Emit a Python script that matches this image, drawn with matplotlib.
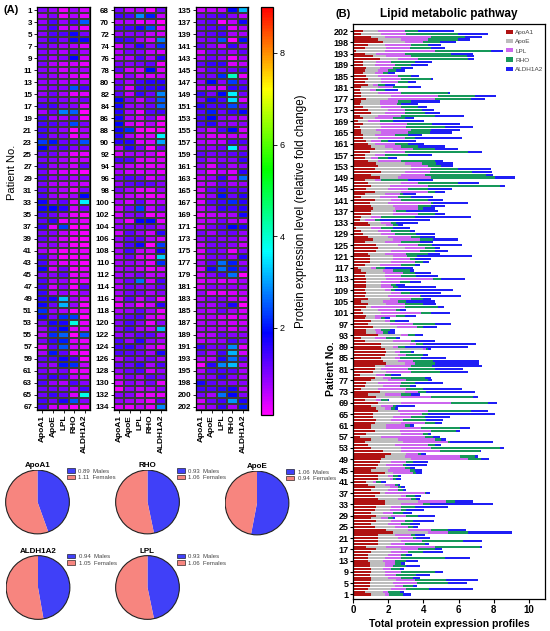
import matplotlib
matplotlib.use('Agg')
import matplotlib.pyplot as plt
import numpy as np
from matplotlib.colors import LinearSegmentedColormap, Normalize
from matplotlib.cm import ScalarMappable
from matplotlib.patches import Patch, Circle

plt.rcParams['font.family'] = ['Liberation Sans', 'DejaVu Sans']

proteins = ['ApoA1', 'ApoE', 'LPL', 'RHO', 'ALDH1A2']
patients = list(range(1, 196)) + list(range(197, 203))

apoa1 = [
    1.00,0.70,0.85,0.95,0.95,1.04,1.04,0.95,1.04,1.04, 0.95,0.95,0.85,0.85,0.85,1.04,1.33,0.76,1.42,1.42,
    1.42,1.42,2.27,1.89,1.23,1.04,1.33,1.04,1.33,1.04, 1.23,1.33,1.80,1.80,1.42,
    1.23,1.52,1.04,1.23,0.85,0.76,1.42,1.42,1.80,1.04, 1.33,1.42,1.52,1.61,1.80,2.18,1.70,1.04,0.85,0.66,
    1.04,0.38,0.76,1.23,1.04,1.04,1.23,1.33,1.14,1.14, 1.42,1.33,1.04,1.42,0.66,1.33,0.85,
    1.52,0.47,0.66,0.76,1.04,1.23,0.38,1.14,1.23,1.23, 1.89,1.70,1.61,1.80,1.89,1.80,1.61,1.61,0.66,0.47,
    1.42,0.76,0.76,1.14,0.85,1.04,0.66,0.76,0.57,0.47, 0.76,0.85,
    0.47,0.85,0.66,0.76,0.66,0.76,0.76,0.76,0.76,0.66, 0.76,0.47,0.28,0.66,0.95,0.95,0.95,0.85,1.33,1.42,
    1.33,0.66,1.14,0.85,0.57,0.47,0.19,0.95,0.85,0.38, 0.47,1.04,1.04,1.14,
    1.04,0.95,1.23,0.47,0.66,1.23,0.76,1.04,0.85,0.66, 1.52,1.04,1.61,1.23,1.42,1.33,0.85,0.66,0.66,0.95,
    1.23,1.04,0.85,0.76,0.57,0.57,0.47,0.47,0.38,0.57, 0.28,0.57,0.38,
    1.04,0.85,0.57,0.38,0.47,0.76,0.47,0.47,0.38,0.47, 0.85,0.66,0.85,0.76,0.57,0.66,0.76,0.57,0.57,1.52,
    1.14,0.66,0.19,0.66,0.85,1.70,1.42,1.04,0.47,0.57]

apoe = [
    0.80,1.00,1.33,1.42,1.33,1.42,0.95,0.85,0.76,0.66, 0.85,0.85,0.85,0.95,1.14,1.14,1.42,1.14,0.76,1.33,
    1.14,0.95,1.99,1.23,1.14,0.95,0.85,0.57,0.85,0.66, 0.85,0.85,0.95,1.89,1.14,
    1.52,0.28,0.95,0.85,0.95,0.38,0.66,0.57,0.47,0.95, 0.76,0.47,0.66,1.70,1.14,0.85,1.04,1.70,1.52,2.18,
    1.52,1.23,1.99,1.42,0.85,0.85,1.52,0.85,1.14,1.52, 1.14,0.47,0.57,1.33,0.66,1.42,0.95,
    1.42,0.95,1.04,0.66,0.95,0.47,0.95,0.76,0.38,0.57, 1.04,0.85,0.76,0.76,0.47,2.18,0.66,1.61,1.61,0.76,
    1.33,0.57,0.47,1.33,1.23,0.76,0.57,0.47,1.04,0.95, 0.28,1.04,
    1.23,1.23,1.33,1.42,1.14,0.85,0.85,0.85,1.14,1.14, 1.04,1.23,0.76,0.85,1.23,1.33,1.33,0.95,0.85,1.52,
    1.23,1.14,1.14,1.14,1.04,0.95,0.85,0.95,0.76,0.28, 0.57,1.23,1.23,1.23,
    1.23,1.04,0.95,1.04,1.14,1.52,1.23,1.04,1.89,0.57, 1.04,1.70,1.33,2.08,1.89,1.61,0.57,0.38,0.57,0.85,
    1.04,0.76,0.38,0.28,0.85,0.66,1.14,0.85,1.23,0.95, 0.57,0.66,1.04,
    0.76,1.14,1.04,1.14,1.04,1.23,1.70,0.95,0.57,0.95, 0.28,0.95,0.76,0.66,0.66,0.76,0.76,0.66,0.76,1.04,
    0.76,0.66,1.61,1.23,0.95,1.23,1.33,0.76,1.14,0.85]

lpl = [
    0.25,0.28,0.85,0.47,1.33,1.04,0.76,0.66,0.95,0.47, 0.47,0.57,0.66,0.95,0.76,0.95,0.95,2.75,0.76,1.14,
    0.85,0.95,1.14,1.33,0.76,0.76,0.76,0.38,0.85,0.57, 0.66,0.57,1.23,1.61,0.76,
    0.28,2.27,0.57,0.47,0.57,0.19,0.19,0.28,1.14,1.23, 0.85,0.95,0.85,3.22,3.13,0.66,2.18,1.70,1.89,2.56,
    2.08,2.46,1.23,1.80,1.99,1.04,1.33,0.66,1.04,1.23, 1.70,0.38,0.66,2.84,0.28,1.70,0.95,
    0.76,1.61,0.95,1.33,1.04,0.47,0.47,1.42,1.52,1.52, 0.57,0.85,0.28,0.47,0.28,0.19,0.28,0.38,1.04,0.66,
    0.38,0.38,0.38,1.14,1.33,0.28,0.38,1.23,2.27,1.04, 1.89,1.04,
    0.85,1.23,1.80,0.57,0.38,0.66,0.57,1.04,2.65,0.95, 1.04,0.57,0.28,1.23,1.33,0.95,0.76,1.23,1.61,1.14,
    1.14,0.95,1.52,1.33,0.76,0.76,0.57,0.38,0.57,0.57, 0.57,1.42,0.19,1.33,
    1.42,2.46,0.57,1.04,0.85,1.52,1.14,2.18,0.95,0.38, 1.89,1.33,1.42,1.14,0.95,0.95,1.33,0.38,0.57,1.14,
    1.14,0.95,1.14,0.57,1.52,1.14,1.52,1.99,1.42,1.52, 0.66,1.04,1.33,
    1.14,0.95,1.14,0.95,1.04,2.65,2.65,1.33,0.38,0.85, 0.28,0.95,1.14,1.14,0.47,0.57,0.76,1.14,0.85,1.14,
    1.42,1.61,2.84,1.33,1.52,1.04,1.52,2.65,1.42,1.52]

rho = [
    0.80,0.66,1.29,0.57,1.80,1.80,0.66,1.14,1.89,0.47, 0.76,0.38,0.66,2.46,0.28,0.85,0.95,2.56,1.14,2.37,
    0.19,0.19,1.14,0.95,0.28,0.47,0.47,0.28,0.66,0.57, 0.28,0.76,0.38,0.47,0.28,
    0.47,0.09,0.28,0.19,0.19,0.28,0.19,0.28,0.19,0.28, 0.28,0.19,0.38,0.76,0.85,0.19,2.27,3.88,0.38,0.09,
    0.38,0.47,0.28,1.42,2.18,0.28,0.57,1.33,0.76,0.38, 2.46,0.19,0.19,2.08,0.38,2.37,0.57,
    0.47,0.95,0.57,0.76,1.23,1.89,0.38,1.61,1.52,1.14, 1.14,1.14,1.23,0.95,0.66,0.09,0.38,0.38,0.19,0.57,
    0.38,0.28,0.47,0.38,1.23,0.28,0.19,0.47,0.57,0.19, 1.89,1.04,
    0.47,0.66,0.09,0.47,0.19,0.28,0.28,0.57,0.47,0.85, 0.66,0.95,0.47,0.76,0.47,0.28,0.57,1.23,0.85,0.57,
    0.76,1.04,0.76,0.47,1.23,1.04,0.66,0.28,0.28,0.28, 1.89,0.95,0.57,0.28,
    0.76,0.09,1.52,0.76,0.19,0.38,1.14,4.07,2.27,1.52, 3.60,3.50,2.37,1.52,0.76,0.85,1.89,0.57,1.33,3.60,
    1.23,0.95,0.76,0.38,0.57,0.76,1.23,1.14,2.18,1.42, 0.76,0.66,1.89,
    1.14,0.95,0.95,0.28,0.76,2.08,2.08,2.65,0.47,0.85, 0.38,0.57,1.70,0.76,0.28,0.47,0.47,0.95,1.33,2.84,
    3.13,2.65,3.22,1.23,0.95,0.95,1.70,1.89,2.94,0.76]

aldh1a2 = [
    0.44,0.28,2.50,0.25,1.04,1.80,0.38,0.76,0.47,0.28, 0.76,0.23,0.66,1.42,0.34,1.14,0.38,0.13,0.23,1.04,
    0.76,0.57,2.46,1.04,0.28,0.57,1.19,0.13,0.95,0.51, 1.00,1.89,3.60,1.04,0.19,
    0.34,0.19,0.19,0.19,0.09,0.28,0.25,0.15,0.32,0.42, 0.28,1.19,0.85,0.42,0.19,0.28,0.05,0.28,0.38,2.46,
    0.28,0.38,0.19,0.19,0.57,0.28,0.38,0.95,1.42,3.79, 0.95,0.19,1.04,0.53,0.09,0.28,0.47,
    2.75,2.23,0.38,1.61,0.23,0.38,0.53,1.61,1.61,2.84, 2.50,2.59,1.42,0.25,0.19,0.15,3.60,3.03,1.14,0.19,
    0.44,0.38,0.28,0.76,0.95,0.80,0.28,0.63,1.04,0.38, 0.32,0.76,
    1.61,0.47,2.27,1.80,3.31,2.18,0.47,0.66,1.36,1.23, 0.95,0.25,1.61,0.28,0.32,0.91,3.13,0.66,0.76,0.28,
    1.70,0.76,1.38,0.85,1.04,0.28,0.95,0.28,1.23,2.84, 3.18,0.57,1.80,0.66,
    0.76,1.99,0.85,1.23,0.76,0.57,1.36,0.28,1.17,1.42, 1.14,0.38,1.14,1.86,0.66,0.95,0.47,0.53,1.33,0.81,
    1.33,1.52,0.91,1.57,2.65,0.80,1.27,1.61,1.61,1.61, 1.76,0.53,1.67,
    0.85,0.72,0.51,0.95,1.63,0.80,1.23,0.13,0.76,0.72, 0.57,0.44,0.09,0.44,0.38,0.47,0.68,0.91,0.95,0.34,
    0.44,1.23,0.66,0.76,0.72,0.95,0.70,1.00,1.67,2.05]

pie_names = ['ApoA1', 'RHO', 'ApoE', 'ALDH1A2', 'LPL']
pie_males = [0.89, 0.93, 1.06, 0.94, 0.93]
pie_females = [1.11, 1.06, 0.94, 1.05, 1.06]

bar_colors = ['#b01212', '#bdbdbd', '#cc66ee', '#17985a', '#1f1ff5']
male_col = '#4040f8'
female_col = '#f7857f'

W, H = 550, 631
fig = plt.figure(figsize=(W / 100, H / 100), dpi=100)


def ax_px(x0, y0, x1, y1):
    return fig.add_axes([x0 / W, 1 - y1 / H, (x1 - x0) / W, (y1 - y0) / H])


n = len(patients)
data = np.array([apoa1[:n], apoe[:n], lpl[:n], rho[:n], aldh1a2[:n]]).T

cmap = LinearSegmentedColormap.from_list(
    'expr', ['#ff00ff', '#0000ff', '#00ffff', '#00ff00', '#ffff00', '#ff0000'])
norm = Normalize(0.1, 9.0)

panels = [(0, 67, 37, 90), (67, 134, 114, 166), (134, 201, 196, 248)]
for a, b, x0, x1 in panels:
    ax = ax_px(x0, 7, x1, 410)
    sub = data[a:b]
    ax.pcolormesh(sub, cmap=cmap, norm=norm, edgecolors='#3a3a3a', linewidth=0.25)
    ax.set_xlim(0, 5)
    ax.set_ylim(b - a, 0)
    rows = np.arange(0, b - a, 2)
    ax.set_yticks(rows + 0.5)
    ax.set_yticklabels([str(patients[a + r]) for r in rows], fontsize=5.8, fontweight='bold')
    ax.set_xticks(np.arange(5) + 0.5)
    ax.set_xticklabels(proteins, rotation=90, fontsize=6, fontweight='bold')
    ax.tick_params(length=2.5, width=0.6, pad=1)
    for s in ax.spines.values():
        s.set_linewidth(0.9)

fig.text(12 / W, 1 - 172 / H, 'Patient No.', rotation=90, ha='center', va='center', fontsize=8)

cax = ax_px(261, 7, 273, 415)
cb = fig.colorbar(ScalarMappable(norm=norm, cmap=cmap), cax=cax, ticks=[2, 4, 6, 8])
cb.ax.tick_params(labelsize=6.5, length=3, width=0.6, pad=2)
cb.outline.set_linewidth(0.9)
cb.set_label('Protein expression level (relative fold change)', fontsize=8.3, labelpad=7)

fig.text(4 / W, 1 - 10 / H, '(A)', fontsize=8, fontweight='bold', ha='left', va='center')

pie_boxes = [(5, 469.5), (115, 469.5), (224.5, 470.5), (5.5, 555), (115, 555)]
for name, m, f, (px, py) in zip(pie_names, pie_males, pie_females, pie_boxes):
    ax = ax_px(px, py, px + 65, py + 65)
    ax.pie([m, f], colors=[male_col, female_col], startangle=90, counterclock=False,
           wedgeprops=dict(linewidth=0))
    ax.add_patch(Circle((0, 0), 1, fill=False, lw=0.8, ec='#222222'))
    ax.set_xlim(-1.02, 1.02)
    ax.set_ylim(-1.02, 1.02)
    ax.set_title(name, fontsize=5.8, fontweight='bold', pad=1.5)
    ax.legend([Patch(fc=male_col, ec='k', lw=0.4), Patch(fc=female_col, ec='k', lw=0.4)],
              [f'{m:.2f}  Males', f'{f:.2f}  Females'], loc='upper left',
              bbox_to_anchor=(0.95, 1.02), fontsize=4.3, frameon=False, handlelength=1.3,
              handleheight=0.8, labelspacing=0.2, borderpad=0, borderaxespad=0,
              handletextpad=0.6, labelcolor='#444444')

axb = ax_px(353, 24, 545, 599)
y = np.arange(n)
left = np.zeros(n)
for k, (name, col) in enumerate(zip(proteins, bar_colors)):
    vals = data[:, k]
    axb.barh(y, vals, left=left, height=0.75, color=col, label=name, linewidth=0)
    left = left + vals
axb.set_ylim(-1.6, 202.5)
axb.set_xlim(0, 10.9)
axb.set_yticks(y[::4])
axb.set_yticklabels([str(patients[i]) for i in range(0, n, 4)], fontsize=6.5, fontweight='bold')
axb.set_xticks(range(0, 11, 2))
axb.set_xticklabels([str(v) for v in range(0, 11, 2)], fontsize=7, fontweight='bold')
axb.tick_params(axis='y', length=2.5, width=0.8, pad=0.5)
axb.tick_params(axis='x', length=3, width=0.8, pad=1.5)
for s in axb.spines.values():
    s.set_linewidth(0.9)
axb.set_xlabel('Total protein expression profiles', fontsize=7.5, fontweight='bold', labelpad=3)
axb.set_ylabel('Patient No.', fontsize=7.5, fontweight='bold')
axb.yaxis.set_label_coords(-0.088, 0.40)
axb.legend(loc='upper left', bbox_to_anchor=(0.795, 0.99), fontsize=4.6, frameon=False,
           handlelength=1.1, handleheight=0.65, labelspacing=0.6, borderpad=0,
           borderaxespad=0, handletextpad=0.4, labelcolor='#444444')

fig.text(449 / W, 1 - 14 / H, 'Lipid metabolic pathway', fontsize=8.5, fontweight='bold',
         ha='center', va='center')
fig.text(335 / W, 1 - 14 / H, '(B)', fontsize=8, fontweight='bold', ha='left', va='center')

fig.savefig('out.png', dpi=100)
